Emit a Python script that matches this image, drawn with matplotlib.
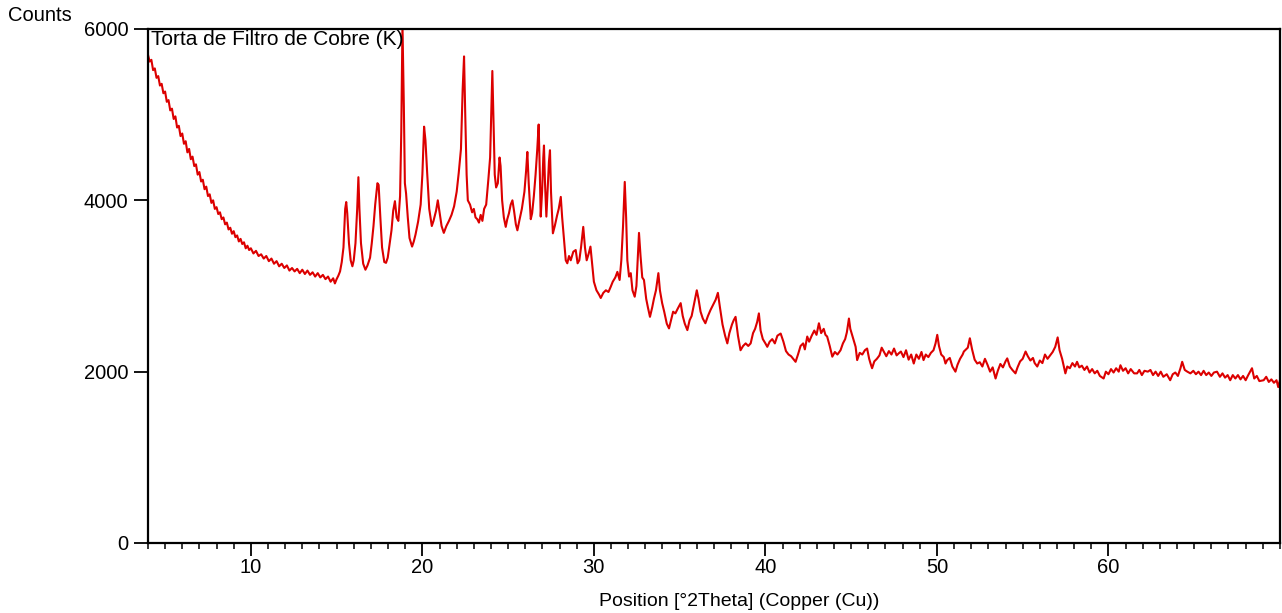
import matplotlib
matplotlib.use("Agg")
import matplotlib.pyplot as plt
from matplotlib.ticker import MultipleLocator

plt.rcParams['font.family'] = ['Liberation Sans', 'DejaVu Sans']

# XRD scan: (2theta, counts)
low_angle = [
    (4.00, 5700), (4.10, 5620), (4.20, 5640), (4.30, 5520), (4.40, 5540), (4.50, 5430),
    (4.60, 5450), (4.70, 5340), (4.80, 5360), (4.90, 5250), (5.00, 5270), (5.10, 5150),
    (5.20, 5170), (5.30, 5050), (5.40, 5070), (5.50, 4950), (5.60, 4980), (5.70, 4850),
    (5.80, 4870), (5.90, 4750), (6.00, 4780), (6.10, 4660), (6.20, 4690), (6.30, 4560),
    (6.40, 4600), (6.50, 4480), (6.60, 4510), (6.70, 4400), (6.80, 4420), (6.90, 4300),
    (7.00, 4330), (7.10, 4220), (7.20, 4240), (7.30, 4130), (7.40, 4160), (7.50, 4050),
    (7.60, 4070), (7.70, 3970), (7.80, 4000), (7.90, 3900), (8.00, 3920), (8.10, 3840),
    (8.20, 3860), (8.30, 3780), (8.40, 3800), (8.50, 3720), (8.60, 3740), (8.70, 3660),
    (8.80, 3680), (8.90, 3610), (9.00, 3640), (9.10, 3570), (9.20, 3590), (9.30, 3520),
    (9.40, 3550), (9.50, 3490), (9.60, 3510), (9.70, 3440), (9.80, 3470), (9.90, 3420),
    (10.00, 3440), (10.15, 3380), (10.30, 3410), (10.45, 3350), (10.60, 3370), (10.75, 3320),
    (10.90, 3350), (11.05, 3290), (11.20, 3320), (11.35, 3260), (11.50, 3290), (11.65, 3230),
    (11.80, 3260), (11.95, 3210), (12.10, 3240), (12.25, 3180), (12.40, 3210), (12.55, 3170),
    (12.70, 3200), (12.85, 3150), (13.00, 3190), (13.15, 3140), (13.30, 3180), (13.45, 3130),
    (13.60, 3160), (13.75, 3110), (13.90, 3150), (14.05, 3100), (14.20, 3130), (14.35, 3080),
    (14.50, 3110), (14.65, 3050), (14.80, 3090), (14.90, 3030), (15.00, 3080), (15.10, 3120),
    (15.20, 3170),
]

peak_region = [
    (15.30, 3280), (15.40, 3450), (15.50, 3900), (15.56, 3980), (15.62, 3850), (15.72, 3500),
    (15.82, 3300), (15.92, 3230), (16.00, 3300), (16.10, 3500), (16.20, 3900), (16.27, 4270),
    (16.33, 3900), (16.42, 3500), (16.55, 3260), (16.68, 3190), (16.80, 3240), (16.95, 3330),
    (17.05, 3500), (17.15, 3700), (17.25, 3950), (17.38, 4200), (17.45, 4180), (17.55, 3800),
    (17.65, 3450), (17.78, 3280), (17.88, 3270), (17.98, 3330), (18.10, 3500), (18.20, 3650),
    (18.30, 3880), (18.40, 3990), (18.50, 3800), (18.60, 3760), (18.70, 4050), (18.77, 4800),
    (18.84, 6050), (18.92, 5100), (18.98, 4200), (19.05, 4080), (19.15, 3800), (19.25, 3560),
    (19.40, 3460), (19.50, 3520), (19.60, 3600), (19.75, 3750), (19.90, 3950), (20.00, 4300),
    (20.10, 4860), (20.18, 4700), (20.28, 4320), (20.40, 3900), (20.55, 3700), (20.65, 3760),
    (20.80, 3880), (20.90, 4000), (21.00, 3860), (21.12, 3700), (21.25, 3620), (21.40, 3700),
    (21.55, 3760), (21.70, 3830), (21.85, 3930), (22.00, 4100), (22.12, 4320), (22.25, 4600),
    (22.35, 5300), (22.43, 5680), (22.50, 5000), (22.58, 4300), (22.65, 4000), (22.78, 3950),
    (22.90, 3860), (23.00, 3900), (23.10, 3800), (23.20, 3780), (23.30, 3740), (23.40, 3830),
    (23.50, 3760), (23.60, 3900), (23.72, 3950), (23.85, 4250), (23.95, 4500), (24.03, 5100),
    (24.08, 5510), (24.14, 5000), (24.22, 4300), (24.30, 4150), (24.40, 4200), (24.50, 4500),
    (24.56, 4400), (24.65, 4000), (24.75, 3800), (24.86, 3690), (24.95, 3780), (25.05, 3850),
    (25.15, 3950), (25.25, 4000), (25.35, 3870), (25.45, 3720), (25.54, 3650), (25.65, 3760),
    (25.80, 3900), (25.95, 4100), (26.05, 4350), (26.12, 4565), (26.20, 4200), (26.32, 3780),
    (26.40, 3850), (26.50, 4050), (26.60, 4300), (26.70, 4600), (26.78, 4885), (26.85, 4300),
    (26.90, 3810), (26.98, 4100), (27.05, 4500), (27.09, 4640), (27.15, 4200), (27.23, 3810),
    (27.30, 4100), (27.38, 4450), (27.44, 4585), (27.50, 4100), (27.61, 3615), (27.72, 3700),
    (27.85, 3820), (27.95, 3900), (28.07, 4040), (28.15, 3800), (28.26, 3535), (28.36, 3300),
    (28.45, 3265), (28.55, 3350), (28.65, 3300), (28.80, 3400), (28.94, 3420), (29.05, 3265),
    (29.15, 3300), (29.25, 3450), (29.38, 3690), (29.48, 3450), (29.58, 3300), (29.70, 3380),
    (29.80, 3460), (29.90, 3250), (30.00, 3050), (30.15, 2950), (30.30, 2900), (30.40, 2860),
    (30.55, 2920), (30.70, 2950), (30.85, 2930), (30.98, 2990), (31.10, 3050), (31.25, 3100),
    (31.37, 3165), (31.50, 3070), (31.60, 3300), (31.70, 3700), (31.80, 4215), (31.88, 3800),
    (31.95, 3300), (32.05, 3110), (32.15, 3150), (32.25, 2950), (32.38, 2875), (32.48, 3000),
    (32.55, 3300), (32.63, 3620), (32.72, 3350), (32.82, 3100), (32.92, 3070), (33.05, 2850),
    (33.15, 2750), (33.27, 2640), (33.40, 2750), (33.50, 2850), (33.62, 2950), (33.76, 3150),
    (33.85, 2950), (33.98, 2800), (34.10, 2700), (34.25, 2560), (34.38, 2505), (34.50, 2600),
    (34.62, 2700), (34.75, 2680), (34.90, 2740), (35.06, 2800), (35.18, 2650), (35.30, 2560),
    (35.45, 2485), (35.58, 2600), (35.70, 2650), (35.85, 2800), (36.00, 2950), (36.10, 2850),
    (36.22, 2700), (36.35, 2620), (36.50, 2565), (36.65, 2650), (36.80, 2720), (36.95, 2780),
    (37.10, 2840), (37.23, 2920), (37.35, 2750), (37.50, 2550), (37.65, 2420), (37.78, 2330),
    (37.90, 2450), (38.05, 2550), (38.15, 2600), (38.26, 2640), (38.40, 2420), (38.55, 2250),
    (38.70, 2300), (38.85, 2330), (39.00, 2300), (39.14, 2330), (39.28, 2450), (39.40, 2500),
    (39.52, 2580), (39.62, 2680), (39.72, 2480), (39.85, 2380), (40.00, 2330),
]

high_angle = [
    (40.11, 2290), (40.25, 2350), (40.40, 2380), (40.55, 2330), (40.70, 2420), (40.89, 2445),
    (41.05, 2350), (41.20, 2240), (41.35, 2200), (41.50, 2180), (41.62, 2150), (41.76, 2115),
    (41.90, 2200), (42.05, 2300), (42.20, 2330), (42.30, 2260), (42.44, 2410), (42.55, 2350),
    (42.70, 2420), (42.85, 2480), (42.98, 2430), (43.12, 2565), (43.25, 2450), (43.40, 2500),
    (43.50, 2430), (43.60, 2410), (43.75, 2300), (43.90, 2175), (44.05, 2230), (44.20, 2200),
    (44.38, 2250), (44.52, 2330), (44.65, 2380), (44.75, 2460), (44.87, 2620), (44.95, 2500),
    (45.10, 2400), (45.26, 2290), (45.35, 2135), (45.50, 2220), (45.65, 2200), (45.80, 2250),
    (45.93, 2270), (46.05, 2150), (46.13, 2095), (46.22, 2040), (46.35, 2120), (46.50, 2150),
    (46.65, 2190), (46.78, 2280), (46.90, 2235), (47.05, 2180), (47.20, 2240), (47.35, 2200),
    (47.50, 2270), (47.65, 2190), (47.78, 2215), (47.90, 2235), (48.05, 2170), (48.20, 2250),
    (48.35, 2140), (48.50, 2200), (48.65, 2095), (48.80, 2200), (48.95, 2150), (49.10, 2230),
    (49.22, 2135), (49.35, 2200), (49.50, 2170), (49.65, 2220), (49.80, 2250), (49.92, 2330),
    (50.02, 2430), (50.12, 2300), (50.25, 2200), (50.40, 2170), (50.50, 2095), (50.60, 2135),
    (50.75, 2160), (50.90, 2060), (51.08, 2000), (51.20, 2080), (51.35, 2150), (51.50, 2200),
    (51.57, 2235), (51.70, 2260), (51.80, 2280), (51.92, 2390), (52.05, 2260), (52.20, 2140),
    (52.35, 2095), (52.50, 2110), (52.65, 2060), (52.80, 2150), (52.95, 2080), (53.10, 2000),
    (53.25, 2050), (53.42, 1920), (53.55, 2010), (53.70, 2090), (53.85, 2050), (54.00, 2120),
    (54.10, 2155), (54.25, 2060), (54.40, 2020), (54.58, 1980), (54.70, 2050), (54.85, 2120),
    (55.00, 2150), (55.17, 2235), (55.30, 2180), (55.45, 2130), (55.60, 2160), (55.70, 2100),
    (55.85, 2060), (56.00, 2130), (56.15, 2100), (56.30, 2200), (56.45, 2150), (56.62, 2195),
    (56.75, 2230), (56.90, 2290), (57.04, 2400), (57.15, 2250), (57.30, 2150), (57.49, 1980),
    (57.60, 2060), (57.75, 2040), (57.90, 2100), (58.05, 2060), (58.17, 2115), (58.30, 2050),
    (58.45, 2070), (58.60, 2020), (58.75, 2060), (58.90, 1990), (59.05, 2030), (59.20, 1980),
    (59.35, 2010), (59.50, 1950), (59.72, 1920), (59.85, 2000), (60.00, 1970), (60.15, 2030),
    (60.30, 1990), (60.45, 2040), (60.60, 2000), (60.70, 2075), (60.85, 2010), (61.00, 2040),
    (61.15, 1980), (61.30, 2030), (61.50, 1980), (61.67, 1980), (61.80, 2020), (61.95, 1960),
    (62.10, 2010), (62.30, 2000), (62.45, 2020), (62.60, 1960), (62.75, 2000), (62.90, 1950),
    (63.05, 2000), (63.20, 1940), (63.40, 1970), (63.60, 1900), (63.75, 1970), (63.90, 1990),
    (64.05, 1950), (64.20, 2040), (64.30, 2115), (64.45, 2020), (64.60, 2000), (64.78, 1980),
    (64.95, 2010), (65.10, 1970), (65.25, 2000), (65.40, 1960), (65.55, 2010), (65.70, 1960),
    (65.85, 1990), (66.00, 1950), (66.15, 1990), (66.33, 2000), (66.50, 1940), (66.65, 1980),
    (66.80, 1930), (66.95, 1960), (67.10, 1900), (67.25, 1960), (67.40, 1920), (67.55, 1960),
    (67.70, 1910), (67.85, 1950), (68.00, 1900), (68.15, 1960), (68.37, 2040), (68.50, 1920),
    (68.65, 1950), (68.80, 1890), (69.05, 1900), (69.20, 1940), (69.35, 1880), (69.50, 1910),
    (69.65, 1870), (69.80, 1900), (69.90, 1820), (70.00, 1900),
]

y_ticks = [0, 2000, 4000, 6000]
x_ticks = [10, 20, 30, 40, 50, 60]
sample_name = "Torta de Filtro de Cobre (K)"

scan = low_angle + peak_region + high_angle
two_theta = [p[0] for p in scan]
counts = [p[1] for p in scan]

fig = plt.figure(figsize=(12.82, 6.13), dpi=100)
ax = fig.add_axes([0.1154, 0.1142, 0.8830, 0.8385])

ax.plot(two_theta, counts, color='#dc0000', lw=1.5)

ax.set_xlim(4, 70)
ax.set_ylim(0, 6000)
ax.set_xticks(x_ticks)
ax.set_yticks(y_ticks)
ax.xaxis.set_minor_locator(MultipleLocator(1))

for s in ax.spines.values():
    s.set_linewidth(1.6)
ax.tick_params(axis='both', direction='out', labelsize=14.5, width=1.3)
ax.tick_params(axis='y', length=10, pad=4)
ax.tick_params(axis='x', length=9, pad=2)
ax.tick_params(axis='x', which='minor', length=4, width=1.1)

ax.text(0.003, 0.998, sample_name, transform=ax.transAxes, fontsize=15,
        ha='left', va='top')
fig.text(0.006, 0.975, "Counts", fontsize=14.5, ha='left', va='center')
ax.set_xlabel("Position [°2Theta] (Copper (Cu))", fontsize=14)
ax.xaxis.set_label_coords(0.522, -0.098)

fig.savefig("out.png", dpi=100)
